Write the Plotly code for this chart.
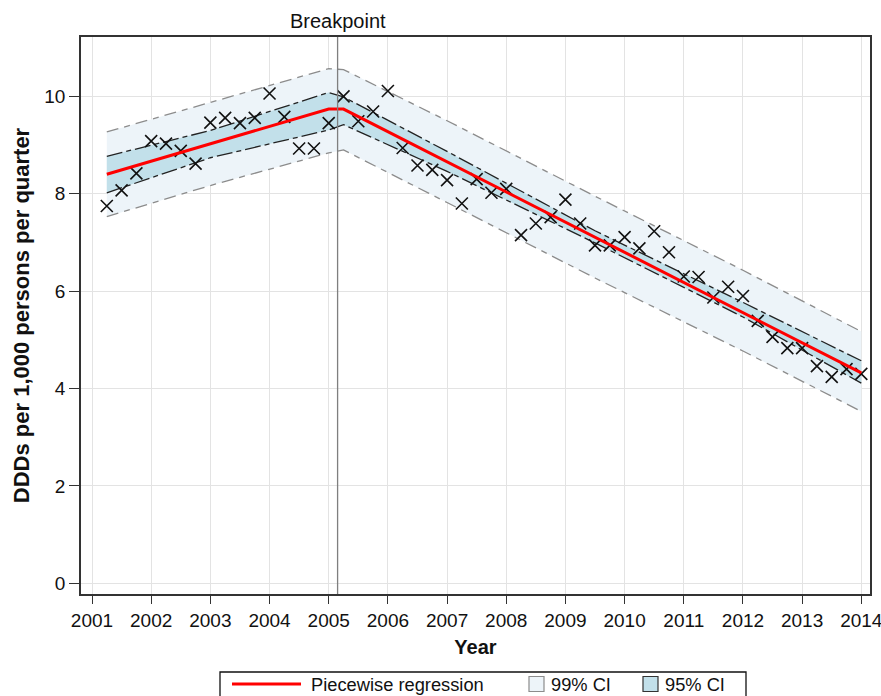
import plotly.graph_objects as go

# ---- data ----
quarter = [2001.25, 2001.5, 2001.75, 2002.0, 2002.25, 2002.5, 2002.75, 2003.0,
           2003.25, 2003.5, 2003.75, 2004.0, 2004.25, 2004.5, 2004.75, 2005.0,
           2005.25, 2005.5, 2005.75, 2006.0, 2006.25, 2006.5, 2006.75, 2007.0,
           2007.25, 2007.5, 2007.75, 2008.0, 2008.25, 2008.5, 2008.75, 2009.0,
           2009.25, 2009.5, 2009.75, 2010.0, 2010.25, 2010.5, 2010.75, 2011.0,
           2011.25, 2011.5, 2011.75, 2012.0, 2012.25, 2012.5, 2012.75, 2013.0,
           2013.25, 2013.5, 2013.75, 2014.0]
ddd = [7.75, 8.07, 8.42, 9.08, 9.03, 8.88, 8.62, 9.46,
       9.56, 9.45, 9.56, 10.06, 9.58, 8.93, 8.93, 9.45,
       10.00, 9.49, 9.69, 10.11, 8.94, 8.58, 8.49, 8.28,
       7.80, 8.30, 8.02, 8.10, 7.15, 7.39, 7.52, 7.88,
       7.39, 6.94, 6.94, 7.11, 6.88, 7.23, 6.80, 6.30,
       6.29, 5.87, 6.09, 5.90, 5.39, 5.06, 4.83, 4.83,
       4.46, 4.24, 4.40, 4.30]

reg_x = [2001.25, 2005.0, 2005.25, 2014.0]
reg_y = [8.40, 9.74, 9.74, 4.32]

band_x = [2001.25, 2003.0, 2005.0, 2005.25, 2007.0, 2009.5, 2012.0, 2014.0]
ci95_upper = [8.77, 9.30, 10.08, 9.99, 8.87, 7.24, 5.77, 4.57]
ci95_lower = [8.02, 8.74, 9.31, 9.42, 8.46, 6.99, 5.47, 4.11]
ci99_upper = [9.27, 9.88, 10.57, 10.55, 9.50, 7.95, 6.43, 5.17]
ci99_lower = [7.53, 8.17, 8.84, 8.90, 7.82, 6.27, 4.77, 3.53]

breakpoint_x = 2005.15
year_ticks = list(range(2001, 2015))
y_ticks = [0, 2, 4, 6, 8, 10]
legend_labels = ["Piecewise regression", "99% CI", "95% CI"]

FONT = "Arial, Liberation Sans, sans-serif"
C99 = "#edf4f9"
C95 = "#c2e0ea"
RED = "#ff0000"

W, H = 881, 696
ML, MR, MT, MB = 81, 11, 37, 102
PW, PH = W - ML - MR, H - MT - MB


def px_x(p):  # pixel -> paper x
    return (p - ML) / PW


def px_y(p):  # pixel -> paper y
    return (H - MB - p) / PH


fig = go.Figure()

# 99% band
fig.add_trace(go.Scatter(x=band_x, y=ci99_lower, mode="lines", line=dict(width=0),
                         showlegend=False, hoverinfo="skip"))
fig.add_trace(go.Scatter(x=band_x, y=ci99_upper, mode="lines", line=dict(width=0),
                         fill="tonexty", fillcolor=C99, showlegend=False, hoverinfo="skip"))
# 95% band
fig.add_trace(go.Scatter(x=band_x, y=ci95_lower, mode="lines", line=dict(width=0),
                         showlegend=False, hoverinfo="skip"))
fig.add_trace(go.Scatter(x=band_x, y=ci95_upper, mode="lines", line=dict(width=0),
                         fill="tonexty", fillcolor=C95, showlegend=False, hoverinfo="skip"))

# band borders
for yy in (ci99_upper, ci99_lower):
    fig.add_trace(go.Scatter(x=band_x, y=yy, mode="lines",
                             line=dict(color="#8c8c8c", width=1.3, dash="12px,6px,6px,6px"),
                             showlegend=False, hoverinfo="skip"))
for yy in (ci95_upper, ci95_lower):
    fig.add_trace(go.Scatter(x=band_x, y=yy, mode="lines",
                             line=dict(color="#222222", width=1.3, dash="16px,4px,5px,4px"),
                             showlegend=False, hoverinfo="skip"))

# observed points
fig.add_trace(go.Scatter(x=quarter, y=ddd, mode="markers",
                         marker=dict(symbol="x-thin", size=12,
                                     line=dict(color="#111111", width=1.6)),
                         showlegend=False))

# regression line
fig.add_trace(go.Scatter(x=reg_x, y=reg_y, mode="lines",
                         line=dict(color=RED, width=3),
                         name=legend_labels[0], showlegend=False))

# breakpoint
fig.add_shape(type="line", xref="x", yref="paper", x0=breakpoint_x, x1=breakpoint_x,
              y0=0, y1=1, line=dict(color="#7f7f7f", width=1.3))
fig.add_annotation(x=breakpoint_x, y=1, xref="x", yref="paper", yanchor="bottom",
                   text="Breakpoint", showarrow=False, yshift=3,
                   font=dict(family=FONT, size=20, color="#111"))

# ---- legend drawn in paper space ----
ly = px_y(684)
fig.add_shape(type="rect", xref="paper", yref="paper",
              x0=px_x(220), x1=px_x(746), y0=px_y(672), y1=px_y(705),
              line=dict(color="#111", width=1.3), fillcolor="white", layer="above")
fig.add_shape(type="line", xref="paper", yref="paper",
              x0=px_x(232), x1=px_x(301), y0=ly, y1=ly,
              line=dict(color=RED, width=3), layer="above")
fig.add_shape(type="rect", xref="paper", yref="paper",
              x0=px_x(529), x1=px_x(544), y0=px_y(676.5), y1=px_y(691.5),
              line=dict(color="#8c8c8c", width=1.2), fillcolor=C99, layer="above")
fig.add_shape(type="rect", xref="paper", yref="paper",
              x0=px_x(643), x1=px_x(658), y0=px_y(676.5), y1=px_y(691.5),
              line=dict(color="#333", width=1.2), fillcolor=C95, layer="above")
for label, left in zip(legend_labels, (309, 549, 663)):
    fig.add_annotation(x=px_x(left), y=ly, xref="paper", yref="paper",
                       xanchor="left", yanchor="middle", text=label, showarrow=False,
                       font=dict(family=FONT, size=18.3, color="#111"))

fig.update_layout(
    width=W, height=H,
    margin=dict(l=ML, r=MR, t=MT, b=MB, autoexpand=False),
    paper_bgcolor="white", plot_bgcolor="white",
    font=dict(family=FONT, size=19, color="#111"),
    showlegend=False,
)
fig.update_xaxes(range=[2000.814, 2014.147], tickvals=year_ticks,
                 ticktext=[str(y) for y in year_ticks],
                 showgrid=True, gridcolor="#e3e3e3", gridwidth=1.2,
                 showline=True, linecolor="#333", linewidth=1.8, mirror=True,
                 ticks="outside", ticklen=8, tickcolor="#333",
                 zeroline=False, automargin=False, ticklabeloverflow="allow",
                 title=dict(text="<b>Year</b>", font=dict(size=20), standoff=10))
fig.update_yaxes(range=[-0.22, 11.22], tickvals=y_ticks,
                 showgrid=True, gridcolor="#e3e3e3", gridwidth=1.2,
                 showline=True, linecolor="#333", linewidth=1.8, mirror=True,
                 ticks="outside", ticklen=10, tickcolor="#333",
                 zeroline=False, automargin=False,
                 title=dict(text="<b>DDDs per 1,000 persons per quarter</b>",
                            font=dict(size=22), standoff=8))

fig.write_html(
    "out.html",
    config={"displayModeBar": False},
    post_script="document.body.style.margin='0';document.body.style.overflow='hidden';",
)
